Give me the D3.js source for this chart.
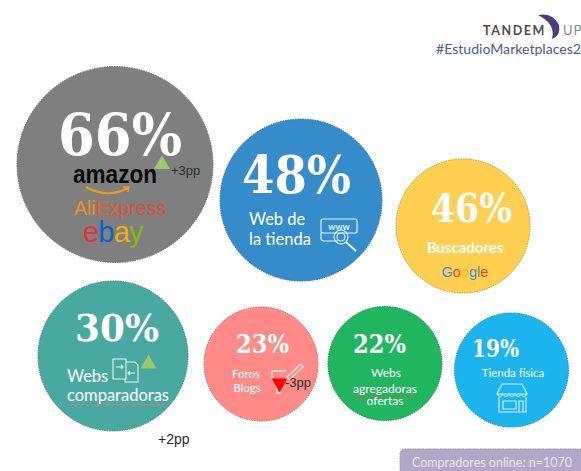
<!DOCTYPE html>
<html><head><meta charset="utf-8">
<script src="https://cdn.jsdelivr.net/npm/d3@7/dist/d3.min.js"></script>
<style>html,body{margin:0;padding:0;background:#fff;overflow:hidden}svg{display:block}
text{font-family:Lato,sans-serif}</style></head><body>
<svg id="c" width="581" height="471"></svg>
<script>
const categories=["Marketplaces","Web de la tienda","Buscadores","Webs comparadoras","Foros Blogs","Webs agregadoras ofertas","Tienda física"];
const values=[66,48,46,30,23,22,19];
const deltas=[3,null,null,2,-3,null,null];
const noteText="Compradores online: n=1070";
const hashtag="#EstudioMarketplaces2";

// layout (separate from the data)
const cxs=[115,301,463,113,261,385,511.5], cys=[164.5,200,226,356,364,363.5,370], rs=[98,81,67,75,57,57,57];
const fills=["#7f7f7f","#358ccb","#ffd04f","#48a9a0","#ff8a86","#1fb65f","#1cb4ef"];
const strokes=["#6a6a6a","#2a6a9c","#b89430","#357f78","#b86663","#178a48","#1588b8"];
const numX=[120,296.5,471.5,117,262.5,379.5,495.5], numY=[155,193,222,341,353,353,357], numFS=[57,52,40,38,26,26,24], numW=[124,109,81,84,53,53,47];
const deltaX=[171,null,null,158,285,null,null], deltaY=[175,null,null,444,387,null,null], deltaFS=[13,0,0,14,13,0,0];
const triX=[162,null,null,148.5,279.5,null,null], triY=[164.5,null,null,364,383,null,null];

const svg=d3.select("#c");
const sx=d3.scaleIdentity(), sy=d3.scaleIdentity();
const data=categories.map((c,i)=>({c,v:values[i],d:deltas[i],i}));

svg.append("g").selectAll("circle").data(data).join("circle")
 .attr("cx",d=>sx(cxs[d.i])).attr("cy",d=>sy(cys[d.i])).attr("r",d=>rs[d.i])
 .attr("fill",d=>fills[d.i]).attr("stroke",d=>strokes[d.i]).attr("stroke-width",1).attr("stroke-dasharray","1.5 1");

svg.append("g").selectAll("text").data(data).join("text")
 .attr("x",d=>numX[d.i]).attr("y",d=>numY[d.i]).attr("text-anchor","middle")
 .attr("fill","#fff").attr("font-weight",700).attr("font-size",d=>numFS[d.i])
 .attr("textLength",d=>numW[d.i]).attr("lengthAdjust","spacingAndGlyphs")
 .style("font-family","'DejaVu Serif',serif").text(d=>d.v+"%");

function txt(x,y,s,fs,o={}){
 const t=svg.append("text").attr("x",x).attr("y",y).attr("font-size",fs)
  .attr("fill",o.fill||"#fff").attr("text-anchor",o.anchor||"start").text(s);
 if(o.weight)t.attr("font-weight",o.weight);
 if(o.family)t.style("font-family",o.family);
 if(o.ls)t.attr("letter-spacing",o.ls);
 if(o.len)t.attr("textLength",o.len).attr("lengthAdjust","spacingAndGlyphs");
 return t;
}
function colored(x,y,chars,cols,fs,o={}){
 const t=svg.append("text").attr("x",x).attr("y",y).attr("font-size",fs).attr("text-anchor",o.anchor||"start");
 if(o.family)t.style("font-family",o.family);
 if(o.weight)t.attr("font-weight",o.weight);
 if(o.ls)t.attr("letter-spacing",o.ls);
 chars.split("").forEach((ch,i)=>t.append("tspan").attr("fill",cols[i]).text(ch));
}
// labels
txt(115,183,"amazon",25,{fill:"#0b0b0b",weight:700,anchor:"middle",family:"'Liberation Sans',sans-serif",len:84});
svg.append("path").attr("d","M86 187 Q108 199 128 188").attr("fill","none").attr("stroke","#f29a1c").attr("stroke-width",2);
svg.append("path").attr("d","M123 187 L129 187 L128 192").attr("fill","none").attr("stroke","#f29a1c").attr("stroke-width",1.3);
colored(74,215,"AliExpress",["#e8932e","#e8932e","#e8932e","#e2612f","#e2612f","#e2562f","#dd4f33","#dd4f33","#dd4f33","#dd4f33"],19.5,{family:"'Liberation Sans',sans-serif"});
colored(83,242,"ebay",["#e53238","#0064d2","#f5af02","#86b817"],29,{family:"'Liberation Sans',sans-serif",ls:-0.8});
txt(249,225,"Web de",16.5); txt(249,245,"la tienda",16.5);
txt(465,253,"Buscadores",15,{weight:700,anchor:"middle"});
colored(465,277,"Google",["#4285f4","#ea4335","#fbbc05","#4285f4","#34a853","#ea4335"],14.5,{anchor:"middle",family:"'Liberation Sans',sans-serif"});
txt(67,382,"Webs",16.5); txt(67,401,"comparadoras",16.5);
svg.append("path").attr("d",d3.range(67,168,3).map((x,i)=>(i?"L":"M")+x+" "+(404+(i%2?1.5:0))).join("")).attr("fill","none").attr("stroke","#d77f7f").attr("stroke-width",.9);
txt(246,378,"Foros",11.5,{anchor:"middle"}); txt(247,392,"Blogs",11.5,{anchor:"middle"});
txt(386,377,"Webs",12,{anchor:"middle"}); txt(385,393,"agregadoras",12,{anchor:"middle"}); txt(385,405,"ofertas",12,{anchor:"middle"});
svg.append("path").attr("d",d3.range(353,418,3).map((x,i)=>(i?"L":"M")+x+" "+(395.5+(i%2?1.2:0))).join("")).attr("fill","none").attr("stroke","#d9534f").attr("stroke-width",.8);
txt(513,377,"Tienda física",11.5,{anchor:"middle"});

// icons
const ic=svg.append("g").attr("fill","none").attr("stroke","#dff0fb").attr("stroke-width",1.2);
ic.append("rect").attr("x",321).attr("y",219).attr("width",36).attr("height",14).attr("rx",2);
ic.append("path").attr("d","M321 233 v5 q0 3 3 3 h14");
ic.append("circle").attr("cx",341).attr("cy",237).attr("r",7);
ic.append("circle").attr("cx",341).attr("cy",237).attr("r",4);
ic.append("path").attr("d","M346 242 L356 251").attr("stroke-width",2);
txt(339,230,"www",9,{anchor:"middle",weight:700,fill:"#dff0fb"});
const ic2=svg.append("g").attr("fill","none").attr("stroke","#e8f5f3").attr("stroke-width",1.1);
ic2.append("path").attr("d","M113 359 h13 v20 h-13 z M126 362 h9 l3 3 v17 h-13 v-3");
ic2.append("path").attr("d","M116 367 h7 m-2 -2 l2 2 l-2 2 M135 373 h-7 m2 -2 l-2 2 l2 2");
const ic3=svg.append("g").attr("fill","none").attr("stroke","#ffe9e8").attr("stroke-width",1.3);
ic3.append("path").attr("d","M272 371 h14 M272 371 v8 l5 8 v6 h4 M288 376 l13 -12 l2 3 l-13 12 l-5 1 z");
const ic4=svg.append("g").attr("fill","none").attr("stroke","#cdeefc").attr("stroke-width",1.2);
ic4.append("path").attr("d","M502 384 h20 l5 10 h-30 z M497 394 q3 5 6 0 q3 5 6 0 q3 5 6 0 q3 5 6 0 q3 5 6 0 M499 397 v15 h27 v-15 M503 401 h13 v8 h-13 z M519 401 h4 v11 h-4 z");

// delta markers
const tri=d3.symbol().type(d3.symbolTriangle).size(110);
const ds=data.filter(d=>d.d!==null);
svg.append("g").selectAll("path").data(ds).join("path")
 .attr("d",tri).attr("transform",d=>`translate(${triX[d.i]},${triY[d.i]}) rotate(${d.d<0?180:0})`)
 .attr("fill",d=>d.d<0?"#ff0000":"#9bc86b");
svg.append("g").selectAll("text").data(ds).join("text")
 .attr("x",d=>deltaX[d.i]).attr("y",d=>deltaY[d.i]).attr("font-size",d=>deltaFS[d.i])
 .attr("fill","#2b2b2b").style("font-family","'Liberation Sans',sans-serif")
 .text(d=>(d.d>0?"+":"")+d.d+"pp");

// header
txt(483,35,"TANDEM",12.5,{fill:"#4d4d4d",weight:700,ls:1.6});
svg.append("path").attr("d","M538 15 Q553 12 559 25 Q561 36 552 39 Q556 24 538 15 Z").attr("fill","#4b3a86");
txt(563,35,"UP",13,{fill:"#8a8a8a",ls:1});
txt(436,54,hashtag,14,{fill:"#4b5a9c",len:145});

// note
svg.append("rect").attr("x",400).attr("y",449).attr("width",190).attr("height",30).attr("rx",5)
 .attr("fill","#b3a7c9").attr("stroke","#9a8db3").attr("stroke-dasharray","1.5 1");
txt(412,467,noteText,12.5,{fill:"#e9e5f0"});
</script></body></html>
